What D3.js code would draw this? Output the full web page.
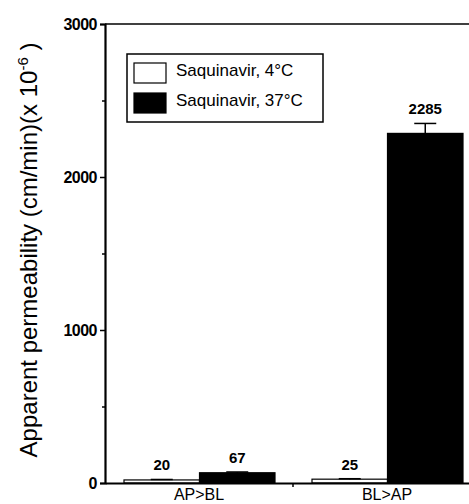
<!DOCTYPE html>
<html>
<head>
<meta charset="utf-8">
<script src="https://cdn.jsdelivr.net/npm/d3@7"></script>
<style>
  body { margin: 0; background: #fff; }
  text { font-family: "Liberation Sans", Arial, sans-serif; fill: #000; }
</style>
</head>
<body>
<div id="chart"></div>
<script>
// chart data
var categories = ["AP>BL", "BL>AP"];
var seriesNames = ["Saquinavir, 4°C", "Saquinavir, 37°C"];
var cold = [20, 25];
var warm = [67, 2285];
var coldErr = [3, 3];
var warmErr = [5, 65];
var majorTicks = [0, 1000, 2000, 3000];
var minorTicks = [500, 1500, 2500];

var svgWidth = 469, svgHeight = 504;
var margin = {top: 24, right: -12, bottom: 21, left: 105};

var chartWidth = svgWidth - margin.left - margin.right;
var chartHeight = svgHeight - margin.top - margin.bottom;

var svg = d3.select("#chart").append("svg")
  .attr("width", svgWidth)
  .attr("height", svgHeight);

var chartGroup = svg.append("g")
  .attr("transform", `translate(${margin.left}, ${margin.top})`);

var yScale = d3.scaleLinear()
  .domain([0, 3000])
  .range([chartHeight, 0]);

var xScale = d3.scaleBand()
  .domain(categories)
  .range([0, chartWidth]);

// two bars inside each category
var subScale = d3.scaleBand()
  .domain([0, 1])
  .range([19, 170]);

var fills = ["#fff", "#000"];
var series = [cold, warm];
var errs = [coldErr, warmErr];

// bars
series.forEach(function(vals, s) {
  chartGroup.selectAll(".bar" + s)
    .data(vals)
    .enter()
    .append("rect")
    .attr("x", (d, i) => xScale(categories[i]) + subScale(s))
    .attr("y", d => yScale(d))
    .attr("width", subScale.bandwidth())
    .attr("height", d => chartHeight - yScale(d))
    .attr("fill", fills[s])
    .attr("stroke", "#000")
    .attr("stroke-width", 1.2);

  // error bars (upper only)
  vals.forEach(function(v, i) {
    var cx = xScale(categories[i]) + subScale(s) + subScale.bandwidth() / 2;
    var top = yScale(v + errs[s][i]);
    chartGroup.append("line")
      .attr("x1", cx).attr("x2", cx)
      .attr("y1", yScale(v)).attr("y2", top)
      .attr("stroke", "#000").attr("stroke-width", 1.5);
    chartGroup.append("line")
      .attr("x1", cx - 11).attr("x2", cx + 11)
      .attr("y1", top).attr("y2", top)
      .attr("stroke", "#000").attr("stroke-width", 1.5);
  });

  // value labels
  chartGroup.selectAll(".lab" + s)
    .data(vals)
    .enter()
    .append("text")
    .attr("x", (d, i) => xScale(categories[i]) + subScale(s) + subScale.bandwidth() / 2)
    .attr("y", (d, i) => yScale(d + errs[s][i]) - 9)
    .attr("text-anchor", "middle")
    .attr("font-size", 15)
    .attr("font-weight", "bold")
    .text(d => d);
});

// y axis
var yAxis = d3.axisLeft(yScale)
  .tickValues(majorTicks)
  .tickSize(5)
  .tickPadding(3)
  .tickFormat(d3.format("d"));

var yG = chartGroup.append("g").call(yAxis);
yG.select(".domain").attr("stroke-width", 2.2);
yG.selectAll(".tick line").attr("stroke-width", 1.5);
yG.selectAll(".tick text")
  .attr("font-size", 16)
  .attr("font-weight", "bold")
  .attr("letter-spacing", -0.5)
  .attr("font-family", "Liberation Sans, Arial, sans-serif");

chartGroup.append("g")
  .call(d3.axisLeft(yScale).tickValues(minorTicks).tickSize(3).tickFormat(""))
  .call(g => g.select(".domain").remove())
  .selectAll(".tick line").attr("stroke-width", 1.5);

// x axis
var xAxis = d3.axisBottom(xScale)
  .tickSize(0)
  .tickPadding(6);

var xG = chartGroup.append("g")
  .attr("transform", `translate(0, ${chartHeight})`)
  .call(xAxis);
xG.select(".domain").attr("stroke-width", 2.2);
xG.selectAll(".tick text")
  .attr("font-size", 16)
  .attr("font-family", "Liberation Sans, Arial, sans-serif");

// tick between the categories
chartGroup.append("line")
  .attr("x1", xScale(categories[1])).attr("x2", xScale(categories[1]))
  .attr("y1", chartHeight).attr("y2", chartHeight + 4)
  .attr("stroke", "#000").attr("stroke-width", 1.5);

// top frame line
chartGroup.append("line")
  .attr("x1", 0).attr("x2", chartWidth)
  .attr("y1", 0).attr("y2", 0)
  .attr("stroke", "#000").attr("stroke-width", 1.5);

// y axis title
svg.append("text")
  .attr("transform", `translate(37, 250) rotate(-90)`)
  .attr("text-anchor", "middle")
  .attr("font-size", 24)
  .html('Apparent permeability (cm/min)(x 10<tspan dy="-9" font-size="15">-6</tspan><tspan dy="9"> )</tspan>');

// legend
var legend = svg.append("g").attr("transform", "translate(127, 54)");
legend.append("rect")
  .attr("width", 196).attr("height", 68)
  .attr("fill", "#fff").attr("stroke", "#000").attr("stroke-width", 1.5);

seriesNames.forEach(function(name, s) {
  legend.append("rect")
    .attr("x", 7).attr("y", 9 + s * 30)
    .attr("width", 32).attr("height", 20)
    .attr("fill", fills[s]).attr("stroke", "#000").attr("stroke-width", 1.2);
  legend.append("text")
    .attr("x", 49).attr("y", 22 + s * 30)
    .attr("font-size", 17)
    .text(name);
});
</script>
</body>
</html>
